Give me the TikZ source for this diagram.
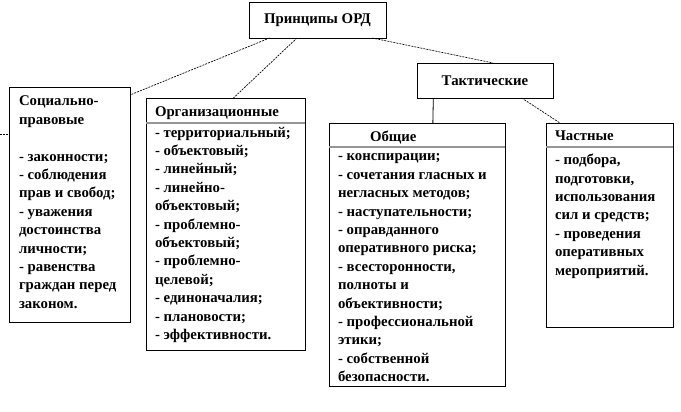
\documentclass[tikz,border=0pt]{standalone}
\usepackage{fontspec}
\setmainfont{Liberation Serif}
\usetikzlibrary{calc,positioning}
\definecolor{sepgray}{RGB}{150,150,150}

\begin{document}
\begin{tikzpicture}[x=0.75pt,y=-0.75pt,
  every node/.style={font=\bfseries\fontsize{11.1}{13.8}\selectfont,align=left,inner sep=0pt,outer sep=0pt},
  box/.style={draw,line width=0.6pt,anchor=north west},
  link/.style={line width=0.5pt,dash pattern=on 1.5pt off 0.8pt},
  sepline/.style={draw=sepgray,line width=1.1pt}]
\useasboundingbox (0,0) rectangle (681,411);
% boxes
\node[box,anchor=center,minimum width=102.75pt,minimum height=27pt] (ord) at (317.5,20) {Принципы ОРД};
\node[box,anchor=center,minimum width=102pt,minimum height=26.25pt] (tact) at (485,80.5) {Тактические};
\node[box,minimum width=90.75pt,minimum height=176.25pt] (soc) at (9,87) {};
\node[box,minimum width=119.25pt,minimum height=189pt] (org) at (146,98) {};
\node[box,minimum width=132pt,minimum height=197.25pt] (gen) at (329,123) {};
\node[box,minimum width=95.25pt,minimum height=153pt] (part) at (546,123) {};
% texts
\node[anchor=north west] (soctxt) at ($(soc.north west)+(10,9)$) {Социально-\\правовые\\[13.8pt]- законности;\\- соблюдения\\прав и свобод;\\- уважения\\достоинства\\личности;\\- равенства\\граждан перед\\законом.};
\node[anchor=north west] (orghead) at ($(org.north west)+(9,9)$) {Организационные};
\node[anchor=north west] (orgtxt) at ($(org.north west)+(9,29)$) {- территориальный;\\- объектовый;\\- линейный;\\- линейно-\\объектовый;\\- проблемно-\\объектовый;\\- проблемно-\\целевой;\\- единоначалия;\\- плановости;\\- эффективности.};
\node[anchor=north west] (genhead) at ($(gen.north west)+(41,8)$) {Общие};
\node[anchor=north west] (gentxt) at ($(gen.north west)+(9,31)$) {- конспирации;\\- сочетания гласных и\\негласных методов;\\- наступательности;\\- оправданного\\оперативного риска;\\- всесторонности,\\полноты и\\объективности;\\- профессиональной\\этики;\\- собственной\\безопасности.};
\node[anchor=north west] (parthead) at ($(part.north west)+(9,8)$) {Частные};
\node[anchor=north west] (parttxt) at ($(part.north west)+(9,31)$) {- подбора,\\подготовки,\\использования\\сил и средств;\\- проведения\\оперативных\\мероприятий.};
% header lines
\draw[sepline] ($(org.north west)+(0,25)$) -- ($(org.north east)+(0,25)$);
\draw[sepline] ($(gen.north west)+(0,24)$) -- ($(gen.north east)+(0,24)$);
\draw[sepline] ($(part.north west)+(0,24)$) -- ($(part.north east)+(0,24)$);
% connectors
\draw[link] ($(ord.south west)!0.15!(ord.south east)$) -- ($(soc.north east)+(0,8)$);
\draw[link] ($(ord.south west)!0.35!(ord.south east)$) -- ($(org.north west)!0.55!(org.north east)$);
\draw[link] ($(ord.south west)!0.9!(ord.south east)$) -- ($(tact.north west)!0.56!(tact.north east)$);
\draw[line width=0.6pt] ($(tact.south west)!0.12!(tact.south east)$) -- ($(gen.north west)!0.59!(gen.north east)$);
\draw[link] ($(tact.south west)!0.77!(tact.south east)$) -- ($(part.north west)!0.11!(part.north east)$);
\coordinate (stub) at (0,134);
\draw[link] (stub) -- (stub -| soc.west);
\end{tikzpicture}
\end{document}
